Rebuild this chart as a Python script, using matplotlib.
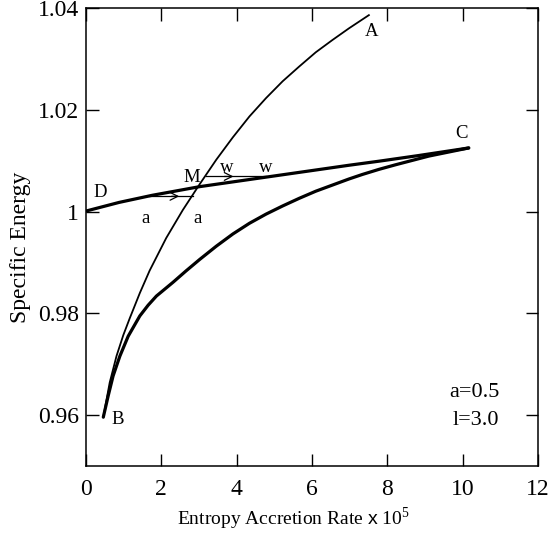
import numpy as np
import matplotlib
matplotlib.use('Agg')
import matplotlib.pyplot as plt

plt.rcParams['font.family'] = 'Liberation Serif'
plt.rcParams['mathtext.fontset'] = 'custom'
plt.rcParams['mathtext.rm'] = 'Liberation Serif'
plt.rcParams['mathtext.sf'] = 'Liberation Sans'

# thin branch B -> A
thin_x = [0.46, 0.63, 0.81, 0.99, 1.16, 1.43, 1.69, 2.13, 2.57, 3.02, 3.46, 3.90,
          4.34, 4.78, 5.22, 5.66, 6.10, 6.54, 6.98, 7.51]
thin_y = [0.9596, 0.9664, 0.9716, 0.9757, 0.9790, 0.9840, 0.9884, 0.9948, 1.0003,
          1.0054, 1.0102, 1.0146, 1.0187, 1.0223, 1.0256, 1.0285, 1.0313, 1.0337,
          1.0360, 1.0386]

# thick lower branch B -> C
low_x = [0.46, 0.59, 0.72, 0.90, 1.12, 1.43, 1.65, 1.87, 2.31, 2.65, 3.02, 3.46,
         3.90, 4.34, 4.78, 5.22, 5.66, 6.10, 6.54, 6.98, 7.34, 7.78, 8.22, 9.10, 10.16]
low_y = [0.9596, 0.9638, 0.9677, 0.9716, 0.9755, 0.9795, 0.9816, 0.9834, 0.9861,
         0.9883, 0.9906, 0.9932, 0.9956, 0.9977, 0.9995, 1.0011, 1.0026, 1.0040,
         1.0052, 1.0064, 1.0073, 1.0083, 1.0092, 1.0109, 1.0125]

# thick upper branch D -> C
up_x = [0.0, 0.88, 1.76, 3.02, 4.34, 5.66, 6.98, 7.78, 8.82, 10.16]
up_y = [1.0001, 1.0018, 1.0032, 1.0049, 1.0063, 1.0077, 1.0091, 1.0099, 1.0110, 1.0125]

xticks = [0, 2, 4, 6, 8, 10, 12]
yticks = [0.96, 0.98, 1.00, 1.02, 1.04]
ytick_labels = ['0.96', '0.98', '1', '1.02', '1.04']

fig = plt.figure(figsize=(5.49, 5.34), dpi=100)
ax = fig.add_axes([0.1566, 0.1273, 0.8234, 0.8577])

ax.plot(thin_x, thin_y, color='k', lw=1.3)
ax.plot(low_x, low_y, color='k', lw=2.3, solid_capstyle='round')
ax.plot(up_x, up_y, color='k', lw=2.3, solid_capstyle='round')

# shock transition arrows
ax.plot([1.67, 2.85], [1.0030, 1.0030], color='k', lw=0.9)
ax.annotate('', xy=(2.55, 1.0030), xytext=(2.2, 1.0030),
            arrowprops=dict(arrowstyle='->', color='k', lw=0.9, mutation_scale=14))
ax.plot([3.19, 4.78], [1.0069, 1.0069], color='k', lw=0.9)
ax.annotate('', xy=(3.99, 1.0069), xytext=(3.6, 1.0069),
            arrowprops=dict(arrowstyle='->', color='k', lw=0.9, mutation_scale=14))

fs = 13.5
ax.text(0.37, 1.0037, 'D', fontsize=fs, ha='center', va='center')
ax.text(2.80, 1.0066, 'M', fontsize=fs, ha='center', va='center')
ax.text(7.58, 1.0354, 'A', fontsize=fs, ha='center', va='center')
ax.text(0.84, 0.9592, 'B', fontsize=fs, ha='center', va='center')
ax.text(9.98, 1.0153, 'C', fontsize=fs, ha='center', va='center')
ax.text(1.59, 0.9986, 'a', fontsize=fs, ha='center', va='center')
ax.text(2.95, 0.9986, 'a', fontsize=fs, ha='center', va='center')
ax.text(3.74, 1.0086, 'w', fontsize=fs, ha='center', va='center')
ax.text(4.76, 1.0086, 'w', fontsize=fs, ha='center', va='center')
ax.text(10.97, 0.9645, 'a=0.5', fontsize=16, ha='right', va='center')
ax.text(10.97, 0.9590, 'l=3.0', fontsize=16, ha='right', va='center')

ax.set_xlim(0, 12)
ax.set_ylim(0.95, 1.04)
ax.set_xticks(xticks)
ax.set_yticks(yticks)
ax.set_yticklabels(ytick_labels)
ax.tick_params(direction='in', length=9, width=1, top=True, right=True,
               labelsize=17)
ax.tick_params(axis='x', pad=9)
ax.tick_params(axis='y', pad=5)
for s in ax.spines.values():
    s.set_linewidth(1.1)

ax.set_xlabel(r'Entropy Accretion Rate $\mathsf{x}$ 10$^5$', fontsize=14)
ax.xaxis.set_label_coords(0.458, -0.085)
ax.set_ylabel('Specific Energy', fontsize=17)
ax.yaxis.set_label_coords(-0.122, 0.478)

fig.savefig('out.png', dpi=100)
